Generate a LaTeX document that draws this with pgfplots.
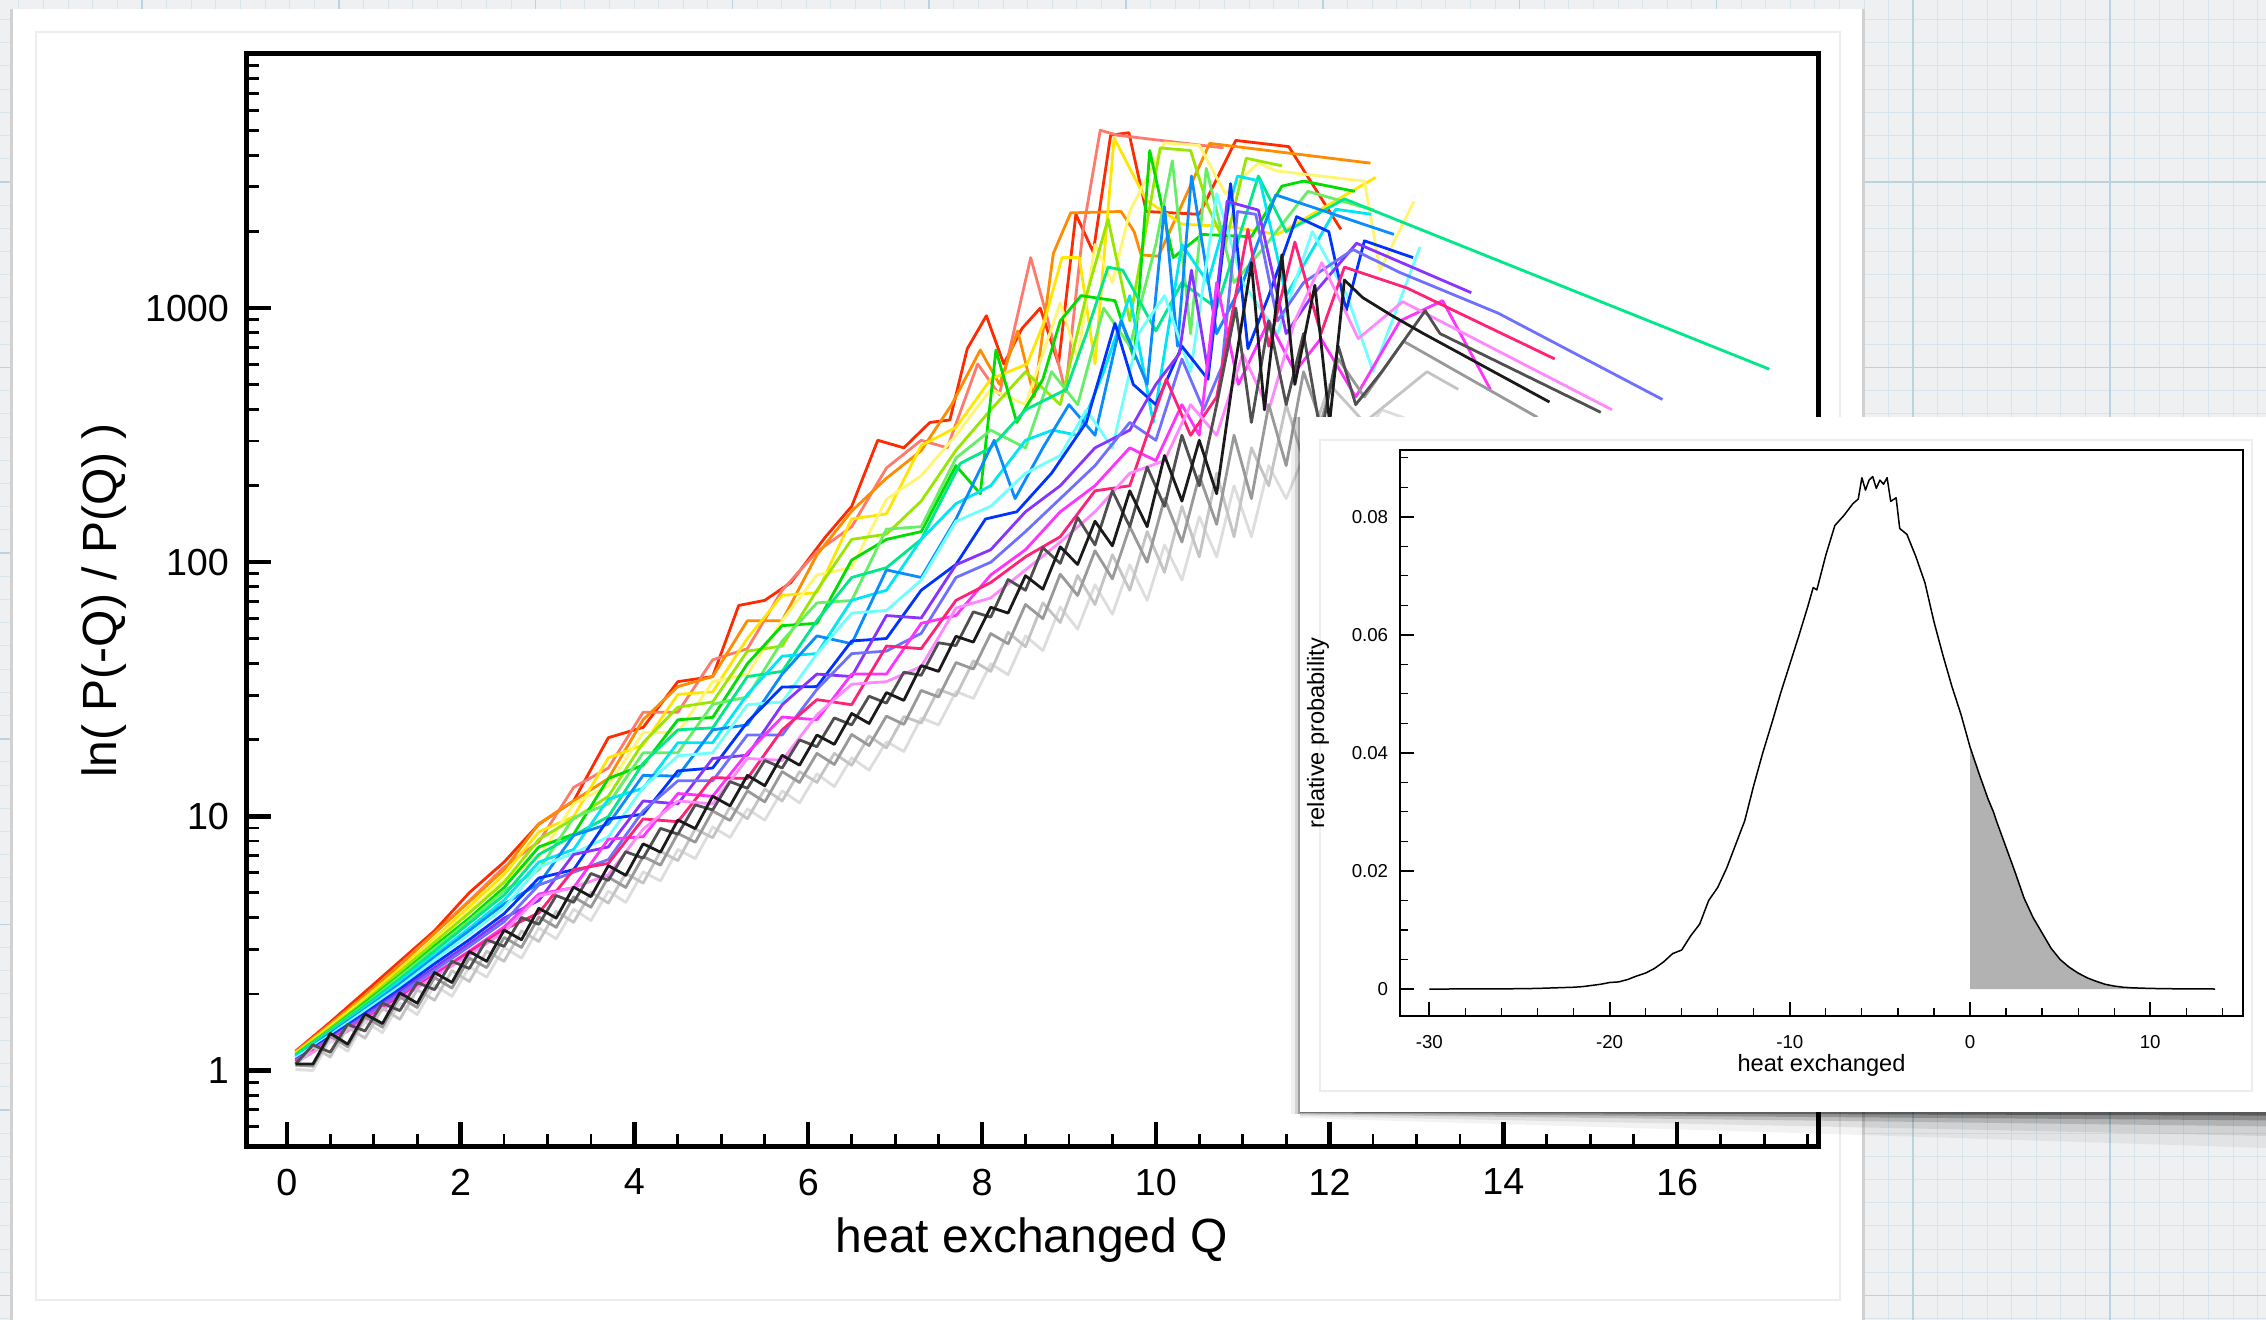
\documentclass[border=0pt]{standalone}
\usepackage{fontspec}
\setmainfont{Liberation Sans}
\usepackage{pgfplots}
\pgfplotsset{compat=1.18}

\definecolor{paper}{HTML}{EEF0F1}
\definecolor{gridminor}{HTML}{D6E4EC}
\definecolor{gridmajor}{HTML}{B8D3E2}
\definecolor{cRed}{HTML}{FF2A00}
\definecolor{cSalmon}{HTML}{FF7A6E}
\definecolor{cOrange}{HTML}{FF8C00}
\definecolor{cYellow}{HTML}{FFE600}
\definecolor{cLtYellow}{HTML}{FFF570}
\definecolor{cYGreen}{HTML}{99E600}
\definecolor{cGreen}{HTML}{00DD00}
\definecolor{cLtGreen}{HTML}{66EE66}
\definecolor{cSpring}{HTML}{00E88A}
\definecolor{cCyan}{HTML}{00E6F5}
\definecolor{cAzure}{HTML}{0A8CFF}
\definecolor{cLtCyan}{HTML}{70FFFF}
\definecolor{cBlue}{HTML}{0033FF}
\definecolor{cPurple}{HTML}{8833FF}
\definecolor{cPeri}{HTML}{7070FF}
\definecolor{cMagenta}{HTML}{FF33FF}
\definecolor{cDeepPink}{HTML}{FF2277}
\definecolor{cPink}{HTML}{FF88FF}
\definecolor{cBlack}{HTML}{1A1A1A}
\definecolor{cDkGray}{HTML}{505050}
\definecolor{cGray}{HTML}{999999}
\definecolor{cLtGray}{HTML}{C4C4C4}
\definecolor{cVLtGray}{HTML}{DDDDDD}

\newcommand\bigtick{\fontsize{18.85}{22}\selectfont}
\newcommand\biglabel{\fontsize{24}{28}\selectfont}
\newcommand\smalltick{\fontsize{9.35}{11}\selectfont}
\newcommand\smalllabel{\fontsize{11.8}{14}\selectfont}

\begin{document}
\begin{tikzpicture}
\useasboundingbox (0pt,0pt) rectangle (1133pt,660pt);
\clip (0pt,0pt) rectangle (1133pt,660pt);

% graph paper and the main card (pixel units of the 2266x1320 slide)
\begin{scope}[x=0.5pt,y=0.5pt]
\fill[paper] (0,0) rectangle (2266,1320);
\foreach \i in {-86,...,7} \draw[gridminor, line width=0.5pt] ({2110+24.6*\i},0) -- ++(0,1320);
\foreach \j in {-8,...,49} \draw[gridminor, line width=0.5pt] (0,{1138-23.2*\j}) -- ++(2266,0);
\foreach \i in {-11,...,1} \draw[gridmajor, line width=0.8pt] ({2110+196.8*\i},0) -- ++(0,1320);
\foreach \j in {-1,...,6} \draw[gridmajor, line width=0.8pt] (0,{1138-185.6*\j}) -- ++(2266,0);
\fill[black!18] (10,-10) rectangle (1865,1311);
\fill[white] (13,-10) rectangle (1862,1311);
\draw[black!7, line width=0.6pt] (36,20) rectangle (1840,1288);
\end{scope}

\begin{axis}[
    at={(123pt,86.5pt)}, anchor=south west,
    scale only axis, width=786pt, height=546.5pt,
    ymode=log,
    xmin=-0.47, xmax=17.62, ymin=0.5, ymax=10000,
    axis line style={line width=2.5pt},
    tick align=inside, tick pos=left,
    major tick length=12.5pt, minor tick length=6.5pt,
    every major tick/.append style={line width=2.2pt, black},
    every minor tick/.append style={line width=1.4pt, black},
    xtick={0,2,4,6,8,10,12,14,16}, xticklabels={0,2,4,6,8,10,12,14,16},
    minor xtick={0.5,1,...,17.5},
    ytick={1,10,100,1000}, yticklabels={1,10,100,1000},
    minor ytick={0.6,0.7,0.8,0.9,2,3,4,5,6,7,8,9,20,30,40,50,60,70,80,90,200,300,400,500,600,700,800,900,2000,3000,4000,5000,6000,7000,8000,9000},
    xticklabel style={font=\bigtick, yshift=-7.5pt},
    yticklabel style={font=\bigtick, xshift=-5pt},
    xlabel={heat exchanged Q},
    ylabel={ln( P(-Q) / P(Q) )},
    xlabel style={font=\biglabel, at={(axis description cs:0.5,-0.0851)}, anchor=center},
    ylabel style={font=\biglabel, at={(axis description cs:-0.0903,0.5)}, anchor=center},
    every axis plot/.append style={line width=1.4pt, mark=none, line join=round},
]
\addplot[cRed] coordinates {(0.1,1.19) (0.5,1.55) (0.9,2.04) (1.3,2.69) (1.7,3.55) (2.1,5.01) (2.5,6.61) (2.9,9.33) (3.3,11.5) (3.7,20.4) (4.1,22.4) (4.5,33.9) (4.9,35.5) (5.2,67.6) (5.5,70.8) (5.8,83.2) (6.2,126) (6.5,166) (6.8,302) (7.1,282) (7.4,355) (7.63,363) (7.83,692) (8.05,933) (8.25,603) (8.46,832) (8.67,1000) (8.88,603) (9.08,2340) (9.28,1660) (9.48,4790) (9.69,4900) (9.89,2400) (10.5,2340) (10.92,4570) (11.53,4320) (12.13,2040)};
\addplot[cSalmon] coordinates {(0.1,1.18) (0.5,1.52) (0.9,1.97) (1.3,2.61) (1.7,3.47) (2.1,4.66) (2.5,6.31) (2.9,7.94) (3.3,13.0) (3.7,15.5) (4.1,25.7) (4.5,25.7) (4.9,41.3) (5.3,45.7) (5.7,77.6) (6.1,110) (6.5,138) (6.9,235) (7.3,302) (7.6,282) (7.95,603) (8.2,457) (8.56,1580) (8.76,891) (8.96,468) (9.16,2000) (9.36,5010) (9.56,4790) (10.78,4270)};
\addplot[cOrange] coordinates {(0.1,1.18) (0.5,1.52) (0.9,1.97) (1.3,2.60) (1.7,3.47) (2.1,4.62) (2.5,6.17) (2.9,9.34) (3.3,11.5) (3.7,14.1) (4.1,24.0) (4.5,32.4) (4.9,35.5) (5.3,58.9) (5.7,58.9) (6.1,107) (6.5,159) (6.9,214) (7.3,275) (7.65,417) (7.98,684) (8.2,501) (8.41,813) (8.6,447) (8.82,1640) (9.02,2370) (9.6,2400) (9.75,2000) (9.83,1620) (10.03,1600) (10.62,4450) (12.47,3720)};
\addplot[cYellow] coordinates {(0.1,1.17) (0.5,1.50) (0.9,1.93) (1.3,2.51) (1.7,3.31) (2.1,4.43) (2.5,5.89) (2.9,8.70) (3.3,9.98) (3.7,17.0) (4.1,19.1) (4.5,30.2) (4.9,30.9) (5.3,50.2) (5.7,74.1) (6.1,75.9) (6.5,148) (6.9,155) (7.3,288) (7.7,339) (8.1,525) (8.52,603) (8.72,891) (8.92,1580) (9.12,1580) (9.3,603) (9.52,4680) (9.7,3550) (9.89,2660) (10.3,2140) (10.86,2090) (11.4,1950) (12.53,3270)};
\addplot[cLtYellow] coordinates {(0.1,1.16) (0.5,1.48) (0.9,1.89) (1.3,2.45) (1.7,3.24) (2.1,4.25) (2.5,5.62) (2.9,6.91) (3.3,11.2) (3.7,13.2) (4.1,21.4) (4.5,21.4) (4.9,33.9) (5.3,36.3) (5.7,58.9) (6.1,89.1) (6.5,95.3) (6.9,177) (7.3,219) (7.7,316) (8.1,479) (8.5,417) (8.9,1050) (9.1,631) (9.3,1780) (9.5,1260) (9.7,2400) (10.1,4470) (10.5,4370) (10.8,2820) (11.18,3720) (11.38,3470) (12.4,3160) (12.58,1410) (12.97,2630)};
\addplot[cYGreen] coordinates {(0.1,1.16) (0.5,1.47) (0.9,1.88) (1.3,2.45) (1.7,3.20) (2.1,4.17) (2.5,5.50) (2.9,8.12) (3.3,9.77) (3.7,12.0) (4.1,19.5) (4.5,26.9) (4.9,28.2) (5.3,44.7) (5.7,46.8) (6.1,77.6) (6.5,123) (6.9,129) (7.3,174) (7.7,276) (8.1,398) (8.5,562) (8.9,417) (9.2,1120) (9.45,2240) (9.7,891) (10.05,4270) (10.4,4170) (10.6,2510) (10.8,1780) (11.04,3890) (11.45,3630)};
\addplot[cGreen] coordinates {(0.1,1.15) (0.5,1.45) (0.9,1.85) (1.3,2.37) (1.7,3.09) (2.1,3.98) (2.5,5.25) (2.9,7.58) (3.3,8.51) (3.7,14.1) (4.1,15.9) (4.5,24.0) (4.9,24.5) (5.3,39.9) (5.7,56.3) (6.1,57.5) (6.5,102) (6.9,123) (7.3,132) (7.7,240) (7.98,186) (8.16,684) (8.4,355) (8.7,525) (8.9,891) (9.14,1120) (9.53,1070) (9.75,631) (9.93,4170) (10.2,1580) (10.53,1950) (11.1,1910) (11.45,3020) (11.7,3160) (12.29,2880)};
\addplot[cLtGreen] coordinates {(0.1,1.14) (0.5,1.44) (0.9,1.82) (1.3,2.34) (1.7,3.02) (2.1,3.89) (2.5,5.09) (2.9,6.17) (3.3,9.89) (3.7,11.2) (4.1,17.8) (4.5,17.8) (4.9,27.6) (5.3,29.5) (5.7,49.0) (6.1,69.2) (6.5,70.7) (6.9,135) (7.3,138) (7.7,257) (8.1,331) (8.5,282) (8.8,562) (9.1,417) (9.4,1000) (9.7,708) (10.0,1780) (10.19,3800) (10.4,794) (10.58,3550) (10.9,1260) (11.2,1660) (11.75,2880) (12.51,2430)};
\addplot[cSpring] coordinates {(0.1,1.14) (0.5,1.43) (0.9,1.80) (1.3,2.29) (1.7,2.95) (2.1,3.80) (2.5,4.90) (2.9,7.08) (3.3,8.41) (3.7,9.98) (4.1,16.2) (4.5,21.9) (4.9,22.3) (5.3,35.5) (5.7,37.2) (6.1,59.0) (6.5,87.1) (6.9,95.2) (7.3,123) (7.75,245) (8.1,282) (8.5,398) (8.97,479) (9.2,794) (9.45,1450) (9.62,1410) (10.0,813) (10.3,1260) (10.7,1000) (11.18,3310) (11.5,2000) (12.17,2690) (17.06,575)};
\addplot[cCyan] coordinates {(0.1,1.13) (0.5,1.41) (0.9,1.76) (1.3,2.24) (1.7,2.85) (2.1,3.63) (2.5,4.68) (2.9,6.61) (3.3,7.41) (3.7,11.7) (4.1,12.9) (4.5,19.5) (4.9,19.5) (5.3,30.2) (5.7,42.7) (6.1,43.7) (6.5,70.8) (6.9,77.6) (7.3,123) (7.7,170) (8.1,200) (8.5,302) (8.81,331) (9.1,316) (9.4,562) (9.7,1120) (9.97,355) (10.3,1780) (10.6,1260) (10.94,3310) (11.2,3160) (11.5,1120) (12.07,2450) (12.48,2340)};
\addplot[cAzure] coordinates {(0.1,1.12) (0.5,1.40) (0.9,1.74) (1.3,2.19) (1.7,2.79) (2.1,3.55) (2.5,4.52) (2.9,5.43) (3.3,8.42) (3.7,9.33) (4.1,14.5) (4.5,14.4) (4.9,21.9) (5.3,22.9) (5.7,36.3) (6.1,51.3) (6.5,47.8) (6.9,93.3) (7.3,87.1) (7.7,148) (8.14,302) (8.38,178) (8.7,282) (9.0,417) (9.3,316) (9.6,891) (9.9,501) (10.1,2510) (10.25,708) (10.41,3310) (10.7,794) (11.0,1260) (11.38,2790) (12.74,1950)};
\addplot[cLtCyan] coordinates {(0.1,1.12) (0.5,1.38) (0.9,1.72) (1.3,2.14) (1.7,2.72) (2.1,3.44) (2.5,4.37) (2.9,6.31) (3.3,7.16) (3.7,8.31) (4.1,13.0) (4.5,17.3) (4.9,17.8) (5.3,27.5) (5.7,28.2) (6.1,43.6) (6.5,63.1) (6.9,64.6) (7.3,85.1) (7.7,145) (8.1,166) (8.5,224) (8.9,263) (9.2,398) (9.5,282) (9.8,794) (10.1,1120) (10.4,562) (10.7,2820) (11.0,1260) (11.4,794) (11.8,2000) (12.2,1120) (12.5,562) (13.04,1740)};
\addplot[cBlue] coordinates {(0.1,1.10) (0.5,1.36) (0.9,1.68) (1.3,2.09) (1.7,2.63) (2.1,3.27) (2.5,4.14) (2.9,5.72) (3.3,6.17) (3.7,9.77) (4.1,10.2) (4.5,15.1) (4.9,15.5) (5.3,23.5) (5.7,32.3) (6.1,32.4) (6.5,49.0) (6.9,50.1) (7.3,77.6) (7.7,98.0) (8.04,148) (8.4,158) (8.8,224) (9.2,355) (9.53,871) (9.74,501) (10.0,417) (10.3,708) (10.6,525) (10.86,3090) (11.06,692) (11.3,1120) (11.62,2290) (11.99,2000) (12.19,977) (12.4,1840) (12.96,1580)};
\addplot[cPurple] coordinates {(0.1,1.10) (0.5,1.34) (0.9,1.65) (1.3,2.04) (1.7,2.54) (2.1,3.16) (2.5,3.98) (2.9,4.67) (3.3,7.08) (3.7,7.58) (4.1,11.5) (4.5,11.2) (4.9,16.9) (5.3,17.4) (5.7,27.5) (6.1,36.3) (6.5,35.5) (6.9,61.7) (7.3,60.3) (7.7,97.7) (8.1,112) (8.5,158) (8.9,200) (9.3,282) (9.7,331) (10.0,501) (10.27,661) (10.41,1410) (10.6,562) (10.82,2630) (11.18,2430) (11.5,794) (11.8,1120) (12.31,1800) (13.63,1150)};
\addplot[cPeri] coordinates {(0.1,1.09) (0.5,1.33) (0.9,1.63) (1.3,2.00) (1.7,2.48) (2.1,3.08) (2.5,3.85) (2.9,5.37) (3.3,6.03) (3.7,6.76) (4.1,10.5) (4.5,13.8) (4.9,13.8) (5.3,20.9) (5.7,20.9) (6.1,31.6) (6.5,43.7) (6.9,44.7) (7.3,52.5) (7.7,87.1) (8.1,100) (8.5,132) (8.9,178) (9.3,240) (9.7,355) (10.0,302) (10.3,631) (10.55,398) (10.76,589) (10.94,2400) (11.15,2340) (11.4,891) (11.7,1260) (12.27,1700) (12.81,1380) (13.94,955) (15.83,437)};
\addplot[cMagenta] coordinates {(0.1,1.08) (0.5,1.32) (0.9,1.60) (1.3,1.95) (1.7,2.40) (2.1,2.95) (2.5,3.67) (2.9,4.95) (3.3,5.24) (3.7,8.13) (4.1,8.32) (4.5,12.3) (4.9,12.0) (5.3,17.8) (5.7,24.6) (6.1,24.0) (6.5,36.3) (6.9,36.3) (7.3,57.5) (7.7,61.7) (8.1,89.1) (8.5,112) (8.9,158) (9.3,200) (9.7,282) (10.0,251) (10.3,417) (10.5,316) (10.7,1260) (10.95,501) (11.3,891) (11.6,562) (11.9,759) (12.3,447) (12.81,891) (13.3,1070) (13.85,479)};
\addplot[cDeepPink] coordinates {(0.1,1.08) (0.5,1.31) (0.9,1.58) (1.3,1.93) (1.7,2.37) (2.1,2.92) (2.5,3.59) (2.9,4.17) (3.3,6.17) (3.7,6.53) (4.1,9.77) (4.5,9.53) (4.9,14.2) (5.3,14.1) (5.7,21.9) (6.1,28.8) (6.5,27.5) (6.9,46.8) (7.3,45.7) (7.7,70.8) (8.1,83.2) (8.5,105) (8.9,126) (9.3,191) (9.7,200) (10.12,525) (10.4,316) (10.7,447) (11.06,2040) (11.3,708) (11.6,1820) (11.9,794) (12.17,1450) (12.89,1200) (14.59,631)};
\addplot[cPink] coordinates {(0.1,1.07) (0.5,1.30) (0.9,1.57) (1.3,1.91) (1.7,2.34) (2.1,2.85) (2.5,3.51) (2.9,4.85) (3.3,5.25) (3.7,5.89) (4.1,8.91) (4.5,11.5) (4.9,11.2) (5.3,16.9) (5.7,16.6) (6.1,25.1) (6.5,33.1) (6.9,33.9) (7.3,38.9) (7.7,66.0) (8.1,72.4) (8.5,93.3) (8.9,120) (9.3,158) (9.7,224) (10.1,251) (10.4,417) (10.7,316) (11.0,661) (11.3,398) (11.6,891) (11.91,1510) (12.33,759) (12.84,1060) (15.25,398)};
\addplot[cVLtGray] coordinates {(0.1,1.01) (0.3,1.00) (0.5,1.32) (0.7,1.19) (0.9,1.56) (1.1,1.41) (1.3,1.84) (1.5,1.66) (1.7,2.17) (1.9,1.96) (2.1,2.56) (2.3,2.33) (2.5,3.05) (2.7,2.77) (2.9,3.64) (3.1,3.30) (3.3,4.31) (3.5,3.89) (3.7,5.08) (3.9,4.59) (4.1,6.05) (4.3,5.57) (4.5,7.41) (4.7,6.82) (4.9,9.08) (5.1,8.26) (5.3,10.7) (5.5,9.66) (5.7,12.6) (5.9,11.3) (6.1,14.7) (6.3,13.1) (6.5,17.0) (6.7,15.2) (6.9,19.7) (7.1,18.0) (7.3,24.4) (7.5,22.9) (7.7,31.0) (7.9,29.1) (8.1,39.9) (8.3,36.1) (8.5,51.3) (8.7,44.9) (8.9,66.7) (9.1,54.6) (9.3,81.5) (9.5,62.4) (9.7,97.7) (9.9,70.8) (10.1,117) (10.3,85.1) (10.5,151) (10.7,105) (10.9,200) (11.1,126) (11.3,240) (11.5,178) (11.8,316) (12.2,251) (12.6,398) (13.0,355)};
\addplot[cLtGray] coordinates {(0.1,1.04) (0.3,1.24) (0.5,1.13) (0.7,1.48) (0.9,1.34) (1.1,1.76) (1.3,1.59) (1.5,2.08) (1.7,1.89) (1.9,2.47) (2.1,2.24) (2.3,2.95) (2.5,2.69) (2.7,3.54) (2.9,3.22) (3.1,4.23) (3.3,3.83) (3.5,5.02) (3.7,4.56) (3.9,5.97) (4.1,5.46) (4.3,7.28) (4.5,6.70) (4.7,8.93) (4.9,8.24) (5.1,10.9) (5.3,9.79) (5.5,12.8) (5.7,11.5) (5.9,15.0) (6.1,13.6) (6.3,17.7) (6.5,15.9) (6.7,20.7) (6.9,18.6) (7.1,24.7) (7.3,23.3) (7.5,31.6) (7.7,29.8) (7.9,40.9) (8.1,37.2) (8.3,53.0) (8.5,46.5) (8.7,69.2) (8.9,57.9) (9.1,88.7) (9.3,68.2) (9.5,107) (9.7,77.6) (9.9,132) (10.1,91.2) (10.3,166) (10.5,105) (10.7,224) (10.9,126) (11.1,282) (11.3,200) (11.5,417) (11.7,251) (12.0,501) (12.4,355) (13.12,562) (13.48,479)};
\addplot[cGray] coordinates {(0.1,1.05) (0.3,1.04) (0.5,1.37) (0.7,1.24) (0.9,1.63) (1.1,1.48) (1.3,1.95) (1.5,1.77) (1.7,2.32) (1.9,2.11) (2.1,2.77) (2.3,2.54) (2.5,3.34) (2.7,3.05) (2.9,4.02) (3.1,3.66) (3.3,4.82) (3.5,4.39) (3.7,5.77) (3.9,5.25) (4.1,6.95) (4.3,6.43) (4.5,8.57) (4.7,7.91) (4.9,10.5) (5.1,9.64) (5.3,12.6) (5.5,11.4) (5.7,15.0) (5.9,13.6) (6.1,17.7) (6.3,16.0) (6.5,21.0) (6.7,19.0) (6.9,24.8) (7.1,23.0) (7.3,31.3) (7.5,29.5) (7.7,40.3) (7.9,38.0) (8.1,52.4) (8.3,47.8) (8.5,68.2) (8.7,60.0) (8.9,89.7) (9.1,74.0) (9.3,111) (9.5,86.1) (9.7,138) (9.9,100) (10.1,178) (10.3,120) (10.5,219) (10.7,141) (10.9,316) (11.1,178) (11.3,417) (11.5,240) (11.7,562) (11.9,355) (12.1,631) (12.4,447) (12.85,741) (14.39,372)};
\addplot[cDkGray] coordinates {(0.1,1.06) (0.3,1.26) (0.5,1.18) (0.7,1.52) (0.9,1.43) (1.1,1.84) (1.3,1.72) (1.5,2.22) (1.7,2.08) (1.9,2.69) (2.1,2.52) (2.3,3.27) (2.5,3.08) (2.7,4.00) (2.9,3.76) (3.1,4.88) (3.3,4.59) (3.5,5.96) (3.7,5.60) (3.9,7.26) (4.1,6.85) (4.3,8.97) (4.5,8.51) (4.7,11.1) (4.9,10.6) (5.1,13.7) (5.3,12.9) (5.5,16.6) (5.7,15.5) (5.9,20.0) (6.1,18.8) (6.3,24.4) (6.5,22.9) (6.7,29.7) (6.9,27.9) (7.1,36.9) (7.3,35.9) (7.5,48.2) (7.7,47.0) (7.9,63.8) (8.1,60.8) (8.3,85.5) (8.5,77.6) (8.7,114) (8.9,99) (9.1,150) (9.3,117) (9.5,191) (9.7,138) (9.9,237) (10.1,166) (10.3,316) (10.5,200) (10.7,417) (10.92,1000) (11.1,355) (11.3,891) (11.5,417) (11.7,794) (11.9,316) (12.1,708) (12.3,417) (12.6,562) (13.1,977) (13.27,794) (15.12,389)};
\addplot[cBlack] coordinates {(0.1,1.06) (0.3,1.06) (0.5,1.40) (0.7,1.27) (0.9,1.67) (1.1,1.53) (1.3,2.02) (1.5,1.84) (1.7,2.43) (1.9,2.22) (2.1,2.94) (2.3,2.69) (2.5,3.57) (2.7,3.27) (2.9,4.35) (3.1,3.98) (3.3,5.27) (3.5,4.83) (3.7,6.40) (3.9,5.86) (4.1,7.80) (4.3,7.23) (4.5,9.68) (4.7,8.95) (4.9,12.0) (5.1,11.0) (5.3,14.5) (5.5,13.2) (5.7,17.4) (5.9,15.9) (6.1,20.9) (6.3,19.2) (6.5,25.4) (6.7,23.2) (6.9,30.7) (7.1,28.6) (7.3,39.2) (7.5,37.2) (7.7,51.1) (7.9,48.5) (8.1,66.5) (8.3,63.1) (8.5,88.5) (8.7,78.3) (8.9,115) (9.1,98) (9.3,145) (9.5,116) (9.7,191) (9.9,138) (10.1,263) (10.3,174) (10.5,302) (10.7,186) (10.9,562) (11.1,1510) (11.25,398) (11.45,1620) (11.6,501) (11.83,1230) (12.0,355) (12.17,1290) (12.38,1100) (12.72,933) (13.08,794) (14.53,427)};
\end{axis}

% inset card with its shadows (pixel units)
\begin{scope}[x=0.5pt,y=0.5pt]
\foreach \d/\o in {3/0.35,7/0.22,12/0.14,20/0.08,30/0.05}
  \fill[black, fill opacity=\o] (1300,208) -- (2266,208) -- (2266,{208-\d*1.2}) .. controls (1800,{208-\d*0.7}) .. (1300,{208-\d*0.2}) -- cycle;
\foreach \d/\o in {2/0.25,5/0.12,9/0.06}
  \fill[black, fill opacity=\o] ({1300-\d},206) rectangle (1300,903);
\fill[white] (1300,208) rectangle (2266,903);
\draw[black!7, line width=0.6pt] (1320,229) rectangle (2252,880);
\end{scope}

\begin{axis}[
    at={(700pt,152pt)}, anchor=south west,
    scale only axis, width=421.5pt, height=283pt,
    xmin=-31.63, xmax=15.15, ymin=-0.00457, ymax=0.0913,
    axis line style={line width=1.2pt},
    tick align=inside, tick pos=left,
    major tick length=7pt, minor tick length=3.8pt,
    every major tick/.append style={line width=1pt, black},
    every minor tick/.append style={line width=0.6pt, black},
    xtick={-30,-20,-10,0,10}, xticklabels={-30,-20,-10,0,10},
    minor xtick={-28,-26,...,14},
    ytick={0,0.02,0.04,0.06,0.08}, yticklabels={0,0.02,0.04,0.06,0.08},
    minor ytick={0.005,0.01,0.015,0.025,0.03,0.035,0.045,0.05,0.055,0.065,0.07,0.075,0.085,0.09},
    scaled ticks=false,
    xticklabel style={font=\smalltick, yshift=-6pt},
    yticklabel style={font=\smalltick, xshift=-2.4pt},
    xlabel={heat exchanged},
    ylabel={relative probability},
    xlabel style={font=\smalllabel, at={(axis description cs:0.5,-0.0866)}, anchor=center},
    ylabel style={font=\smalllabel, at={(axis description cs:-0.0973,0.5)}, anchor=center},
]
\addplot[draw=none, fill=black!30] coordinates {(0,0) (0,0.0410) (0.5,0.0365) (1,0.0322) (1.3,0.0300) (1.5,0.0282) (2,0.0240) (2.5,0.0198) (3,0.0154) (3.5,0.0121) (4,0.0095) (4.5,0.0069) (5,0.0050) (5.5,0.0037) (6,0.0027) (6.5,0.0019) (7,0.0013) (7.5,0.0008) (8,0.0005) (8.5,0.0003) (9,0.0002) (10,0.0001) (11,0.00005) (12,0.00002) (13.6,0)};
\addplot[black, line width=0.75pt, mark=none, line join=round] coordinates {(-30,0) (-29,0) (-28,0.00001) (-27,0.00002) (-26,0.00003) (-25,0.00005) (-24,0.0001) (-23,0.0002) (-22,0.0003) (-21.5,0.0004) (-21,0.0006) (-20.5,0.0008) (-20,0.0011) (-19.5,0.0012) (-19,0.0016) (-18.5,0.0022) (-18,0.0027) (-17.5,0.0035) (-17,0.0046) (-16.5,0.0060) (-16,0.0066) (-15.5,0.0090) (-15,0.0110) (-14.5,0.0150) (-14,0.0172) (-13.5,0.0205) (-13,0.0245) (-12.5,0.0285) (-12,0.0345) (-11.5,0.0400) (-11,0.0450) (-10.5,0.0502) (-10,0.0550) (-9.5,0.0598) (-9,0.0648) (-8.7,0.0680) (-8.5,0.0676) (-8,0.0735) (-7.5,0.0785) (-7,0.0802) (-6.5,0.0822) (-6.2,0.0830) (-6,0.0866) (-5.8,0.0845) (-5.6,0.0862) (-5.4,0.0868) (-5.2,0.0848) (-5,0.0862) (-4.8,0.0855) (-4.6,0.0866) (-4.4,0.0826) (-4.1,0.0832) (-3.9,0.0780) (-3.5,0.0770) (-3,0.0732) (-2.5,0.0688) (-2,0.0622) (-1.5,0.0565) (-1,0.0512) (-0.5,0.0465) (0,0.0410) (0.5,0.0365) (1,0.0322) (1.3,0.0300) (1.5,0.0282) (2,0.0240) (2.5,0.0198) (3,0.0154) (3.5,0.0121) (4,0.0095) (4.5,0.0069) (5,0.0050) (5.5,0.0037) (6,0.0027) (6.5,0.0019) (7,0.0013) (7.5,0.0008) (8,0.0005) (8.5,0.0003) (9,0.0002) (10,0.0001) (11,0.00005) (12,0.00002) (13.6,0)};
\end{axis}
\end{tikzpicture}
\end{document}
